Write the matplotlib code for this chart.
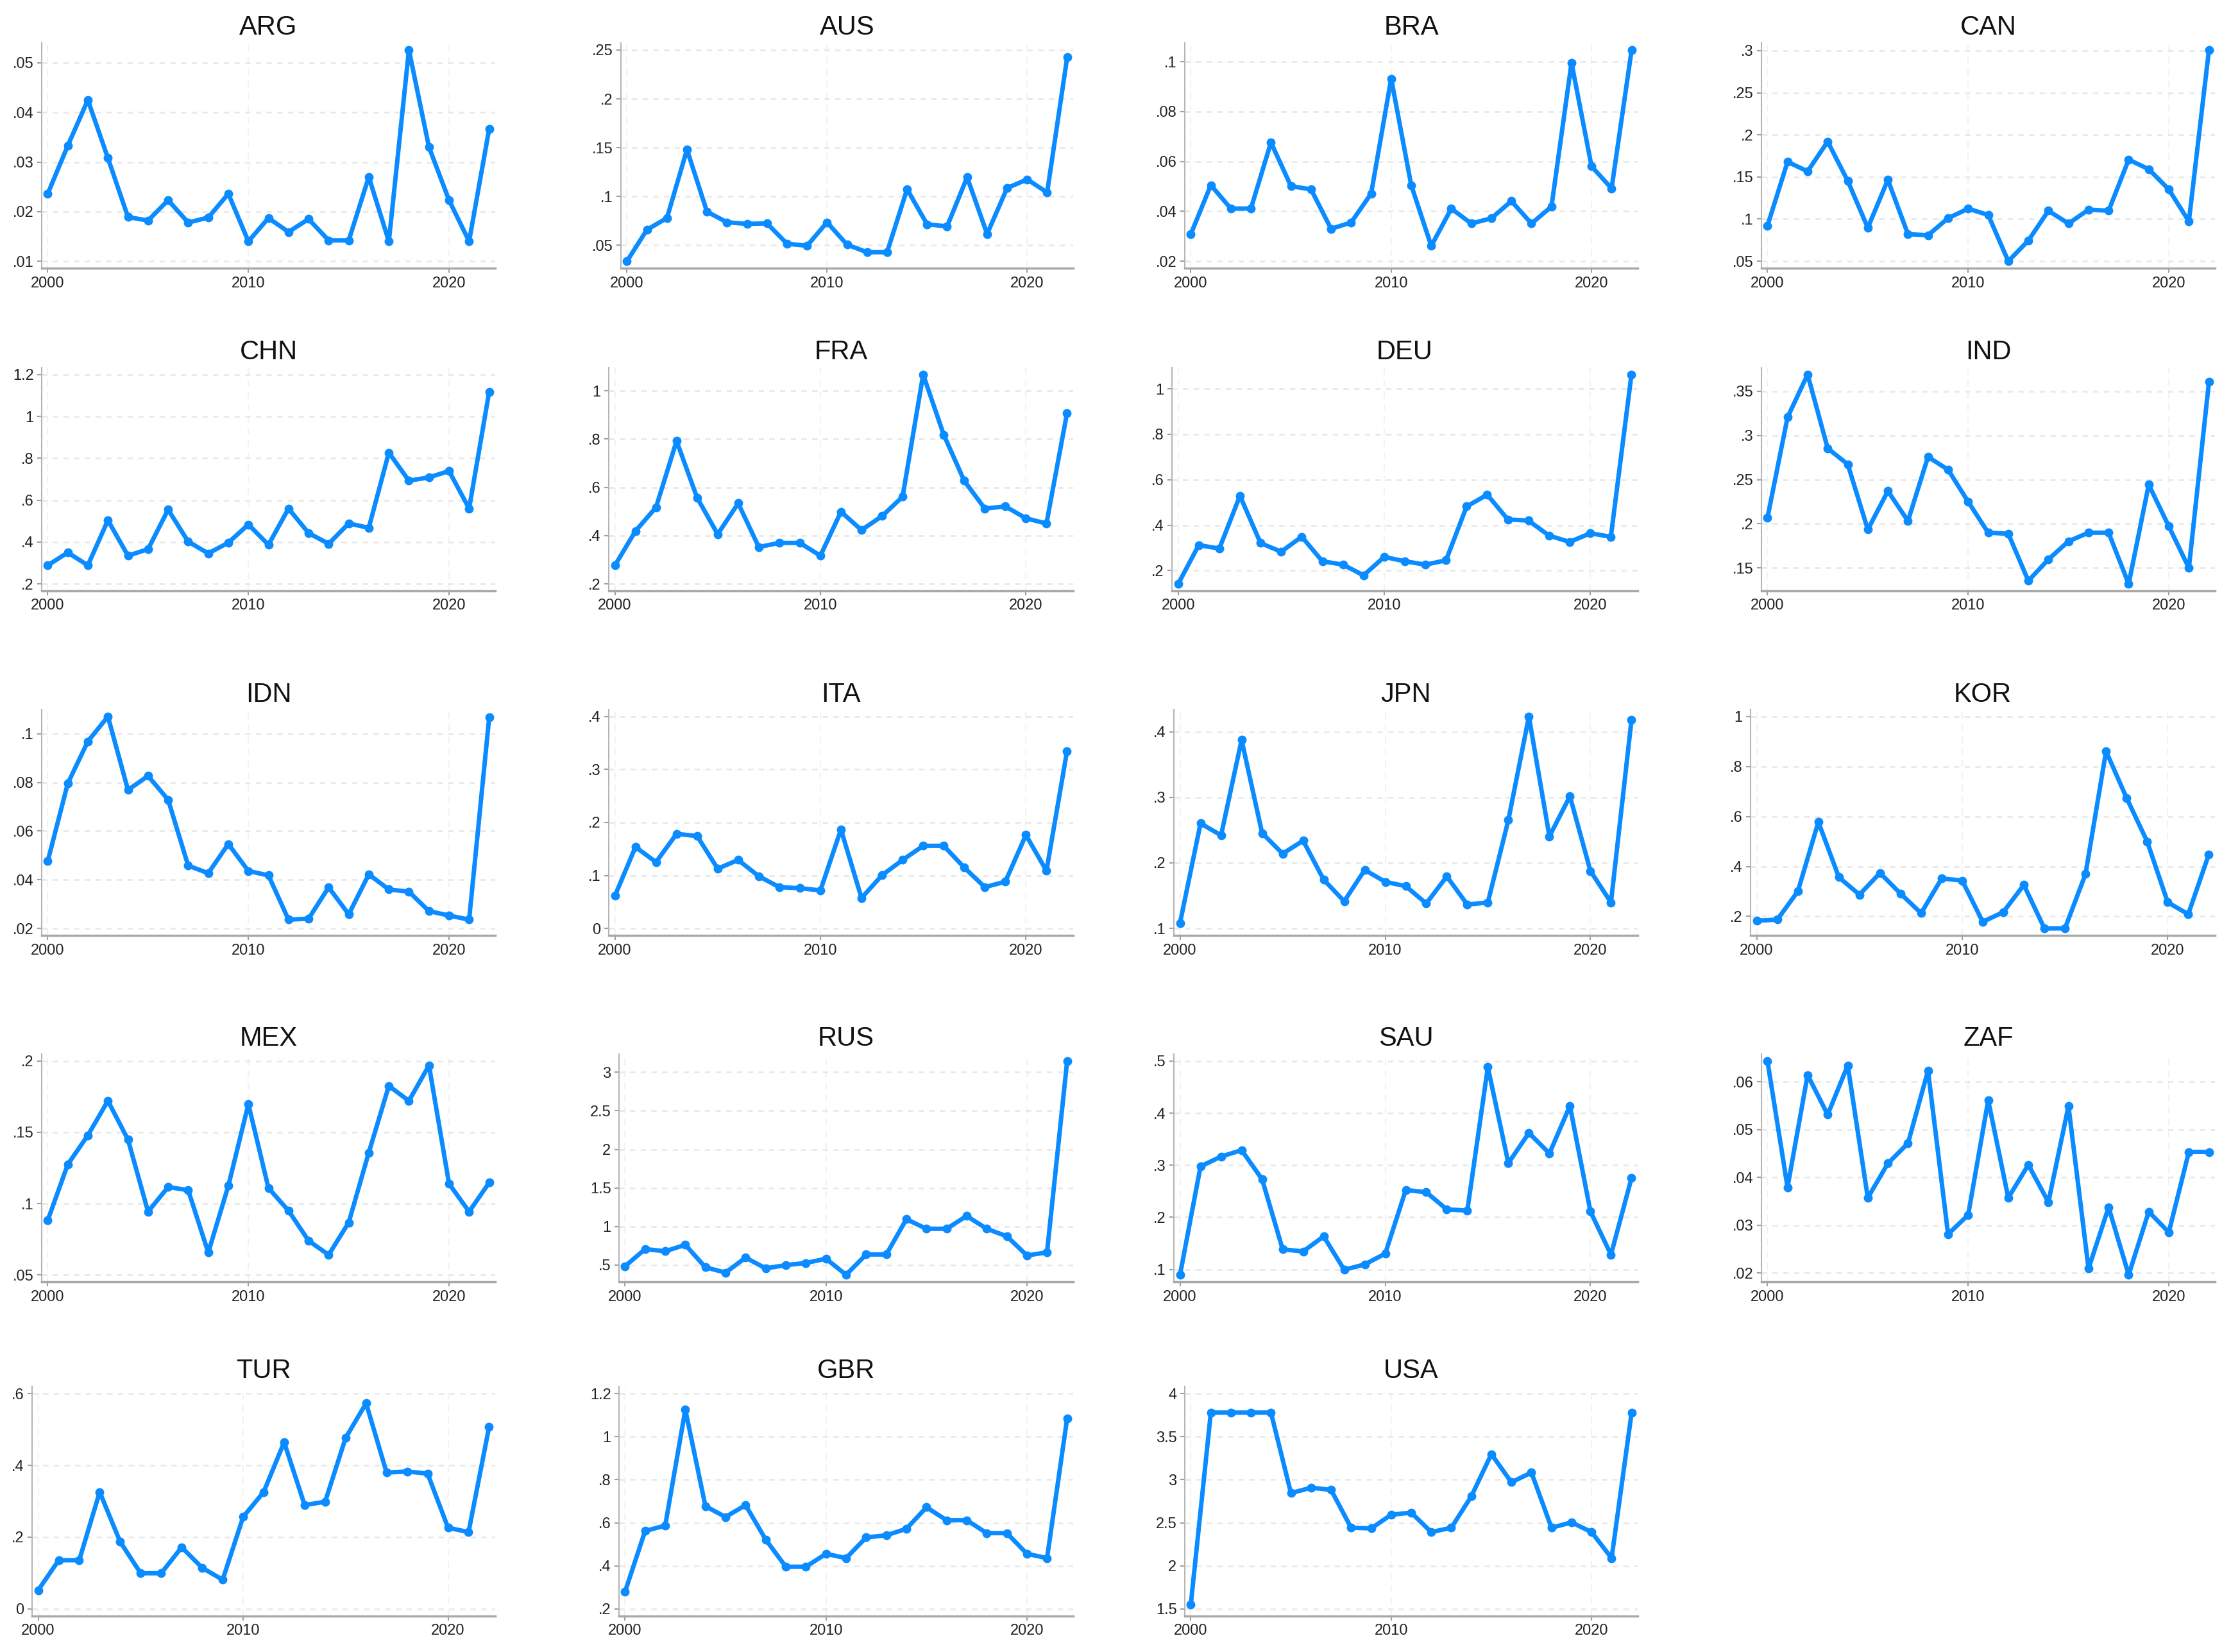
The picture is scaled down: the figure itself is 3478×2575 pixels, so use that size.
import matplotlib
matplotlib.use("Agg")
import matplotlib.pyplot as plt

plt.rcParams["font.family"] = ["Liberation Sans", "DejaVu Sans"]

years = list(range(2000, 2023))

arg = [.0236, .0333, .0425, .0308, .0189, .0182, .0223, .0178, .0188, .0236, .0140, .0187,
       .0159, .0185, .0142, .0142, .0270, .0140, .0526, .0330, .0223, .0140, .0367]
aus = [.0338, .066, .078, .148, .0845, .0736, .072, .0725, .0517, .0496, .0736, .0507,
       .043, .043, .1075, .0716, .0694, .1197, .0617, .1087, .1175, .1042, .2424]
bra = [.0308, .0505, .0411, .0411, .0676, .0501, .0488, .033, .0355, .0471, .0932, .0505,
       .0261, .0411, .0351, .0372, .0441, .0351, .0419, .0996, .058, .0492, .1047]
can = [.0922, .168, .1567, .192, .1453, .0897, .1466, .0821, .0808, .1011, .1124, .1049,
       .050, .0745, .1099, .0947, .1112, .1099, .1706, .1592, .1352, .0973, .3008]
chn = [.289, .350, .289, .504, .335, .366, .555, .402, .346, .397, .484, .387,
       .560, .443, .392, .489, .468, .827, .693, .709, .739, .560, 1.118]
fra = [.277, .419, .517, .792, .557, .406, .534, .353, .370, .370, .317, .499,
       .423, .481, .561, 1.067, .818, .627, .512, .521, .472, .450, .907]
deu = [.141, .312, .297, .529, .321, .283, .349, .241, .226, .179, .260, .241,
       .226, .245, .482, .534, .425, .420, .354, .326, .364, .349, 1.063]
ind = [.2068, .3205, .3689, .2854, .2673, .1935, .2370, .2032, .2757, .2612, .2250, .1899,
       .1887, .1355, .1597, .1802, .1899, .1899, .1319, .2443, .1971, .1500, .3604]
idn = [.0476, .0796, .0969, .1071, .0769, .0827, .0729, .0458, .0427, .0547, .0436, .0418,
       .0236, .0240, .0369, .0258, .0422, .0360, .0351, .0271, .0253, .0236, .1067]
ita = [.0615, .1538, .1251, .1785, .1744, .1128, .1292, .0985, .0779, .0759, .0718, .1867,
       .0574, .1005, .1292, .1559, .1559, .1149, .0779, .0882, .1764, .1087, .3344]
jpn = [.1083, .2602, .2420, .3874, .2453, .2140, .2338, .1743, .1413, .1892, .1710, .1644,
       .1380, .1793, .1363, .1396, .2652, .4231, .2404, .3015, .1875, .1396, .4178]
kor = [.1826, .187, .300, .578, .3565, .287, .374, .291, .213, .352, .3435, .178,
       .2174, .326, .152, .152, .3696, .861, .674, .500, .2565, .2087, .4478]
mex = [.0882, .1275, .1479, .1721, .1449, .0943, .1116, .1094, .0656, .1124, .1698, .1109,
       .0950, .0739, .0640, .0867, .1358, .1826, .1721, .1970, .1139, .0943, .1147]
rus = [.486, .708, .680, .763, .472, .403, .597, .458, .500, .528, .583, .375,
       .638, .638, 1.095, .971, .971, 1.137, .971, .874, .625, .666, 3.144]
sau = [.0896, .2979, .3166, .3290, .2731, .1385, .1344, .1634, .0992, .1095, .1302, .2524,
       .2482, .2151, .2130, .4884, .3041, .3621, .3228, .4139, .2110, .1282, .2752]
zaf = [.0643, .0379, .0614, .0531, .0634, .0357, .0429, .0471, .0623, .0281, .0321, .0561,
       .0357, .0426, .0348, .0549, .0209, .0337, .0196, .0328, .0285, .0453, .0453]
tur = [.0525, .1357, .1357, .3256, .1869, .0995, .0995, .1718, .1146, .0814, .2563, .3256,
       .4643, .2894, .2985, .4763, .5728, .3799, .3829, .3769, .2261, .2141, .5065]
gbr = [.280, .562, .587, 1.125, .677, .627, .682, .522, .396, .396, .456, .436,
       .532, .542, .572, .672, .612, .612, .552, .552, .456, .436, 1.084]
usa = [1.55, 3.779, 3.779, 3.779, 3.779, 2.844, 2.907, 2.882, 2.442, 2.435, 2.593, 2.618,
       2.392, 2.442, 2.807, 3.297, 2.970, 3.083, 2.442, 2.505, 2.392, 2.090, 3.779]

countries = ["ARG", "AUS", "BRA", "CAN", "CHN", "FRA", "DEU", "IND", "IDN", "ITA",
             "JPN", "KOR", "MEX", "RUS", "SAU", "ZAF", "TUR", "GBR", "USA"]
series = [arg, aus, bra, can, chn, fra, deu, ind, idn, ita,
          jpn, kor, mex, rus, sau, zaf, tur, gbr, usa]
yticks = [
    [.01, .02, .03, .04, .05],
    [.05, .1, .15, .2, .25],
    [.02, .04, .06, .08, .1],
    [.05, .1, .15, .2, .25, .3],
    [.2, .4, .6, .8, 1, 1.2],
    [.2, .4, .6, .8, 1],
    [.2, .4, .6, .8, 1],
    [.15, .2, .25, .3, .35],
    [.02, .04, .06, .08, .1],
    [0, .1, .2, .3, .4],
    [.1, .2, .3, .4],
    [.2, .4, .6, .8, 1],
    [.05, .1, .15, .2],
    [.5, 1, 1.5, 2, 2.5, 3],
    [.1, .2, .3, .4, .5],
    [.02, .03, .04, .05, .06],
    [0, .2, .4, .6],
    [.2, .4, .6, .8, 1, 1.2],
    [1.5, 2, 2.5, 3, 3.5, 4],
]
xticks = [2000, 2010, 2020]

# panel boxes in pixels of the 3478x2575 canvas
W, H = 3478, 2575
rights = [772, 1673, 2553, 3453]
rows = [(67, 418), (573, 921), (1106, 1458), (1643, 1998), (2161, 2519)]
lefts = [65, 968, 1847, 2746,
         65, 949, 1827, 2746,
         65, 949, 1830, 2729,
         65, 965, 1830, 2746,
         50, 965, 1847]

blue = "#0a8bff"


def fmt(v):
    s = f"{v:g}"
    if s.startswith("0."):
        s = s[1:]
    return s


fig = plt.figure(figsize=(W / 100, H / 100), dpi=100)

for i, (name, vals, ticks) in enumerate(zip(countries, series, yticks)):
    r, c = divmod(i, 4)
    top, bot = rows[r]
    left = lefts[i]
    ax = fig.add_axes([left / W, 1 - bot / H, (rights[c] - left) / W, (bot - top) / H])

    ax.plot(years, vals, color=blue, lw=5, marker="o", ms=9, zorder=3)

    lo = min(ticks[0], min(vals))
    hi = max(ticks[-1], max(vals))
    pad = (hi - lo) * 0.033
    ax.set_ylim(lo - pad, hi + pad)
    ax.set_xlim(1999.7, 2022.3)

    ax.set_yticks(ticks)
    ax.set_yticklabels([fmt(t) for t in ticks])
    ax.set_xticks(xticks)
    ax.set_xticklabels([str(t) for t in xticks])

    ax.grid(axis="y", color="#e9e9e9", lw=2, ls=(0, (3, 3)), zorder=0)
    ax.grid(axis="x", color="#f2f2f2", lw=1.5, ls=(0, (5, 4)), zorder=0)

    for s in ["top", "right"]:
        ax.spines[s].set_visible(False)
    ax.spines["left"].set_color("#b5b5b5")
    ax.spines["left"].set_linewidth(1.5)
    ax.spines["bottom"].set_color("#a8a8a8")
    ax.spines["bottom"].set_linewidth(2.5)

    ax.tick_params(axis="both", labelsize=17, colors="#a0a0a0", labelcolor="#222222",
                   length=5, width=1.5, pad=4)
    ax.set_title(name, fontsize=30, color="#111111", pad=9)

fig.savefig("out.png", dpi=100, facecolor="white")
